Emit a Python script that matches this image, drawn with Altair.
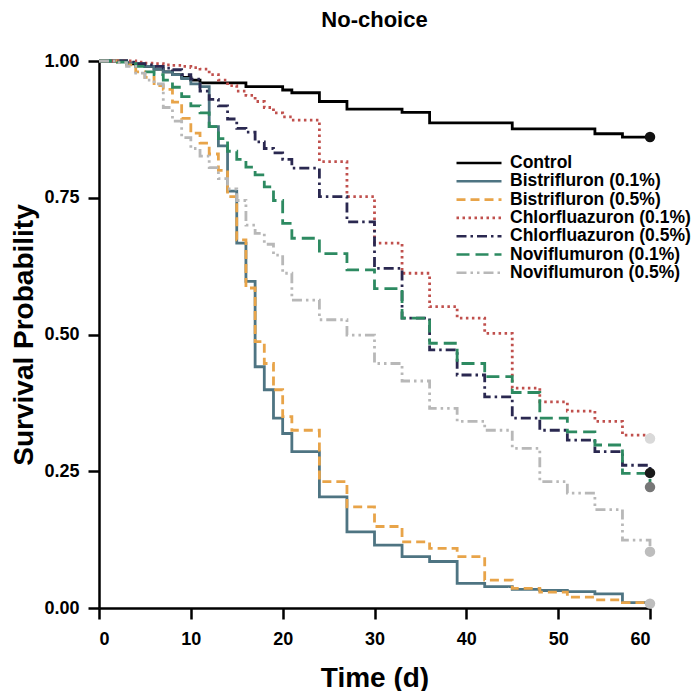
import altair as alt
import pandas as pd

days = [0, 1, 2, 3, 4, 5, 6, 7, 8, 9, 10, 11, 12, 13, 14, 15, 16, 17, 18, 19, 20, 21,
        24, 27, 30, 33, 36, 39, 42, 45, 48, 51, 54, 57, 60]

series_names = ["Control", "Bistrifluron (0.1%)", "Bistrifluron (0.5%)",
                "Chlorfluazuron (0.1%)", "Chlorfluazuron (0.5%)",
                "Noviflumuron (0.1%)", "Noviflumuron (0.5%)"]

control = [1.0, 1.0, 1.0, 0.995, 0.993, 0.99, 0.985, 0.98, 0.975, 0.97, 0.965, 0.96,
           0.96, 0.96, 0.96, 0.96, 0.953, 0.953, 0.953, 0.953, 0.947, 0.942,
           0.926, 0.912, 0.912, 0.906, 0.887, 0.887, 0.887, 0.876, 0.876, 0.876, 0.867, 0.861, 0.861]
bistri_01 = [1.0, 1.0, 1.0, 0.997, 0.995, 0.99, 0.985, 0.98, 0.975, 0.968, 0.958, 0.953,
             0.88, 0.845, 0.762, 0.667, 0.597, 0.441, 0.399, 0.347, 0.319, 0.286,
             0.203, 0.139, 0.115, 0.094, 0.085, 0.045, 0.039, 0.034, 0.032, 0.030, 0.026, 0.010, 0.008]
bistri_05 = [1.0, 1.0, 0.998, 0.993, 0.98, 0.97, 0.955, 0.948, 0.925, 0.895, 0.868, 0.85,
             0.83, 0.80, 0.752, 0.673, 0.585, 0.487, 0.447, 0.399, 0.350, 0.325,
             0.231, 0.185, 0.149, 0.121, 0.109, 0.094, 0.051, 0.036, 0.029, 0.020, 0.015, 0.010, 0.008]
chlor_01 = [1.0, 1.0, 1.0, 1.0, 0.998, 0.996, 0.995, 0.993, 0.992, 0.99, 0.988, 0.985,
            0.975, 0.965, 0.955, 0.945, 0.937, 0.926, 0.915, 0.905, 0.898, 0.892,
            0.816, 0.752, 0.667, 0.612, 0.551, 0.530, 0.502, 0.402, 0.377, 0.360, 0.341, 0.316, 0.310]
chlor_05 = [1.0, 1.0, 1.0, 0.998, 0.995, 0.993, 0.99, 0.987, 0.984, 0.975, 0.967, 0.945,
            0.93, 0.918, 0.894, 0.877, 0.87, 0.852, 0.84, 0.832, 0.82, 0.804,
            0.752, 0.706, 0.621, 0.530, 0.472, 0.426, 0.386, 0.347, 0.325, 0.307, 0.286, 0.261, 0.247]
novi_01 = [1.0, 1.0, 0.998, 0.995, 0.99, 0.98, 0.975, 0.965, 0.952, 0.935, 0.918, 0.905,
           0.88, 0.858, 0.835, 0.82, 0.806, 0.792, 0.77, 0.745, 0.703, 0.676,
           0.648, 0.618, 0.584, 0.530, 0.484, 0.447, 0.423, 0.394, 0.347, 0.322, 0.298, 0.246, 0.221]
novi_05 = [1.0, 1.0, 0.997, 0.99, 0.978, 0.965, 0.958, 0.915, 0.89, 0.86, 0.84, 0.826,
           0.805, 0.785, 0.766, 0.745, 0.70, 0.685, 0.665, 0.645, 0.612, 0.563,
           0.527, 0.499, 0.447, 0.415, 0.365, 0.341, 0.325, 0.292, 0.231, 0.210, 0.180, 0.124, 0.103]

all_values = [control, bistri_01, bistri_05, chlor_01, chlor_05, novi_01, novi_05]

line_colors = ["#000000", "#4e7482", "#e8a449", "#c0504d", "#2a2850", "#2d8a61", "#b8b8b8"]
line_dashes = [[1, 0], [1, 0], [9, 5], [2.5, 3.5], [10, 4, 2.5, 4], [13, 6], [10, 4, 2.5, 4, 2.5, 4]]

end_days = [60, 60, 60, 60, 60, 60]
end_values = [0.861, 0.310, 0.247, 0.221, 0.103, 0.008]
end_colors = ["#111111", "#d9d9d9", "#1a1a1a", "#777777", "#bdbdbd", "#bdbdbd"]

x_ticks = [0, 10, 20, 30, 40, 50, 60]
y_ticks = [0.0, 0.25, 0.5, 0.75, 1.0]

rows = []
for name, vals in zip(series_names, all_values):
    for d, v in zip(days, vals):
        rows.append({"day": d, "surv": v, "group": name})
df = pd.DataFrame(rows)

dots = pd.DataFrame({"day": end_days, "surv": end_values, "dotcolor": end_colors})

FONT = "Liberation Sans"

legend = alt.Legend(
    title=None, orient="none", legendX=356, legendY=93,
    symbolType="stroke", symbolSize=2025, symbolStrokeWidth=2.6,
    clipHeight=18, rowPadding=0.3, padding=0,
    labelFont=FONT, labelFontSize=17.5, labelFontWeight="bold", labelColor="black",
    labelOffset=7, labelLimit=0,
)

x_enc = alt.X("day:Q", scale=alt.Scale(domain=[0, 60], nice=False),
              axis=alt.Axis(values=x_ticks, title="Time (d)", format="d",
                            titleY=78, titleBaseline="alphabetic", labelPadding=11))
y_enc = alt.Y("surv:Q", scale=alt.Scale(domain=[0, 1], nice=False),
              axis=alt.Axis(values=y_ticks, format=".2f", title="Survival Probability",
                            titleX=-67, titleY=273.5, titleAngle=270,
                            titleBaseline="alphabetic", titleAlign="center", labelPadding=9))

lines = alt.Chart(df).mark_line(interpolate="step-after", strokeWidth=2.8).encode(
    x=x_enc,
    y=y_enc,
    color=alt.Color("group:N", scale=alt.Scale(domain=series_names, range=line_colors),
                    sort=series_names, legend=legend),
    strokeDash=alt.StrokeDash("group:N", scale=alt.Scale(domain=series_names, range=line_dashes),
                              sort=series_names, legend=legend),
)

points = alt.Chart(dots).mark_circle(size=110, opacity=1).encode(
    x="day:Q",
    y="surv:Q",
    fill=alt.Fill("dotcolor:N", scale=None, legend=None),
)

chart = alt.layer(lines, points).properties(
    width=551, height=547,
    title=alt.TitleParams("No-choice", font=FONT, fontSize=22, fontWeight="bold",
                          color="black", anchor="middle", offset=20),
    autosize=alt.AutoSizeParams(type="none"),
    padding={"left": 91, "top": 53, "right": 42, "bottom": 83},
).configure_view(stroke=None).configure_axis(
    grid=False, domainColor="black", domainWidth=2.5, tickColor="black", tickWidth=2.5,
    tickSize=11, labelFont=FONT, labelFontSize=18, labelFontWeight="bold", labelColor="black",
    titleFont=FONT, titleFontSize=28, titleFontWeight="bold", titleColor="black",
)

chart.save("out.html", embed_options={"renderer": "svg", "actions": False})
